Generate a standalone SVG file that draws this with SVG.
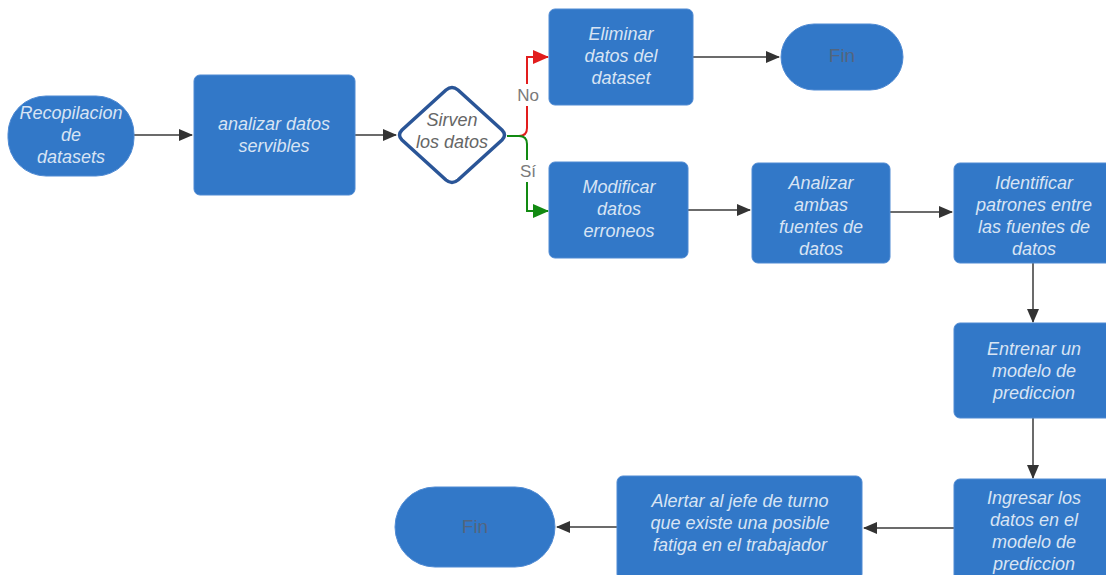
<svg xmlns="http://www.w3.org/2000/svg" width="1106" height="575" viewBox="0 0 1106 575">
<defs>
<marker id="ah" markerWidth="14" markerHeight="12" refX="13" refY="6" orient="auto" markerUnits="userSpaceOnUse"><path d="M0,0 L14,6 L0,12 Z" fill="#333"/></marker>
<marker id="ahr" markerWidth="16" markerHeight="14" refX="15" refY="7" orient="auto" markerUnits="userSpaceOnUse"><path d="M0,0 L16,7 L0,14 Z" fill="#e21d1d"/></marker>
<marker id="ahg" markerWidth="16" markerHeight="14" refX="15" refY="7" orient="auto" markerUnits="userSpaceOnUse"><path d="M0,0 L16,7 L0,14 Z" fill="#128a12"/></marker>
</defs>
<style>
.n{fill:#3278c8;stroke:#4f8ad3;stroke-width:1}
.t{font-family:"Liberation Sans",Arial,sans-serif;font-style:italic;font-size:18px;fill:#d8e4f4;text-anchor:middle}
.f{font-family:"Liberation Sans",Arial,sans-serif;font-size:19px;fill:#52657f;text-anchor:middle}
.c{fill:none;stroke:#6b6b6b;stroke-width:2}
.l{font-family:"Liberation Sans",Arial,sans-serif;font-size:17px;fill:#7a7a7a;text-anchor:middle}
</style>
<rect width="1106" height="575" fill="#ffffff"/>
<g id="connectors">
<line class="c" x1="134" y1="135" x2="192" y2="135" marker-end="url(#ah)"/>
<line class="c" x1="355" y1="135" x2="396" y2="135" marker-end="url(#ah)"/>
<path d="M507,136 H519 Q527,136 527,128 V57 H548" fill="none" stroke="#e21d1d" stroke-width="2" marker-end="url(#ahr)"/>
<path d="M507,136 H519 Q527,136 527,144 V211 H548" fill="none" stroke="#128a12" stroke-width="2" marker-end="url(#ahg)"/>
<rect x="516" y="84" width="24" height="22" fill="#ffffff"/>
<text class="l" x="528" y="101">No</text>
<rect x="518" y="160" width="20" height="22" fill="#ffffff"/>
<text class="l" x="528" y="177">Sí</text>
<line class="c" x1="693" y1="57" x2="779" y2="57" marker-end="url(#ah)"/>
<line class="c" x1="688" y1="210" x2="750" y2="210" marker-end="url(#ah)"/>
<line class="c" x1="890" y1="212" x2="952" y2="212" marker-end="url(#ah)"/>
<line class="c" x1="1033" y1="263" x2="1033" y2="322" marker-end="url(#ah)"/>
<line class="c" x1="1033" y1="418" x2="1033" y2="478" marker-end="url(#ah)"/>
<line class="c" x1="954" y1="528" x2="864" y2="528" marker-end="url(#ah)"/>
<line class="c" x1="617" y1="527" x2="557" y2="527" marker-end="url(#ah)"/>
</g>
<g id="n1"><rect class="n" x="8" y="96" width="126" height="80" rx="38" ry="38"/>
<text class="t" x="71" y="119">Recopilacion</text><text class="t" x="71" y="141">de</text><text class="t" x="71" y="163">datasets</text></g>
<g id="n2"><rect class="n" x="194" y="75" width="161" height="120" rx="6"/>
<text class="t" x="274" y="130">analizar datos</text><text class="t" x="274" y="152">servibles</text></g>
<g id="n3"><path d="M446,90 Q452,85 458,90 L502,130 Q507,135 502,140 L458,180 Q452,185 446,180 L402,140 Q397,135 402,130 Z" fill="#ffffff" stroke="#2a5597" stroke-width="3.5" stroke-linejoin="round"/>
<text class="t" x="452" y="126" style="fill:#666">Sirven</text><text class="t" x="452" y="148" style="fill:#666">los datos</text></g>
<g id="n4"><rect class="n" x="549" y="9" width="144" height="96" rx="6"/>
<text class="t" x="621" y="40">Eliminar</text><text class="t" x="621" y="62">datos del</text><text class="t" x="621" y="84">dataset</text></g>
<g id="n5"><rect class="n" x="781" y="24" width="122" height="66" rx="33" ry="33"/>
<text class="f" x="842" y="62">Fin</text></g>
<g id="n6"><rect class="n" x="549" y="162" width="139" height="96" rx="6"/>
<text class="t" x="619" y="193">Modificar</text><text class="t" x="619" y="215">datos</text><text class="t" x="619" y="237">erroneos</text></g>
<g id="n7"><rect class="n" x="752" y="163" width="138" height="100" rx="6"/>
<text class="t" x="821" y="189">Analizar</text><text class="t" x="821" y="211">ambas</text><text class="t" x="821" y="233">fuentes de</text><text class="t" x="821" y="255">datos</text></g>
<g id="n8"><rect class="n" x="954" y="163" width="160" height="100" rx="6"/>
<text class="t" x="1034" y="189">Identificar</text><text class="t" x="1034" y="211">patrones entre</text><text class="t" x="1034" y="233">las fuentes de</text><text class="t" x="1034" y="255">datos</text></g>
<g id="n9"><rect class="n" x="954" y="323" width="160" height="95" rx="6"/>
<text class="t" x="1034" y="355">Entrenar un</text><text class="t" x="1034" y="377">modelo de</text><text class="t" x="1034" y="399">prediccion</text></g>
<g id="n10"><rect class="n" x="954" y="479" width="160" height="104" rx="6"/>
<text class="t" x="1034" y="504">Ingresar los</text><text class="t" x="1034" y="526">datos en el</text><text class="t" x="1034" y="548">modelo de</text><text class="t" x="1034" y="570">prediccion</text></g>
<g id="n11"><rect class="n" x="617" y="476" width="245" height="104" rx="6"/>
<text class="t" x="740" y="507">Alertar al jefe de turno</text><text class="t" x="740" y="529">que existe una posible</text><text class="t" x="740" y="551">fatiga en el trabajador</text></g>
<g id="n12"><rect class="n" x="395" y="487" width="160" height="80" rx="40" ry="40"/>
<text class="f" x="475" y="533">Fin</text></g>
</svg>
